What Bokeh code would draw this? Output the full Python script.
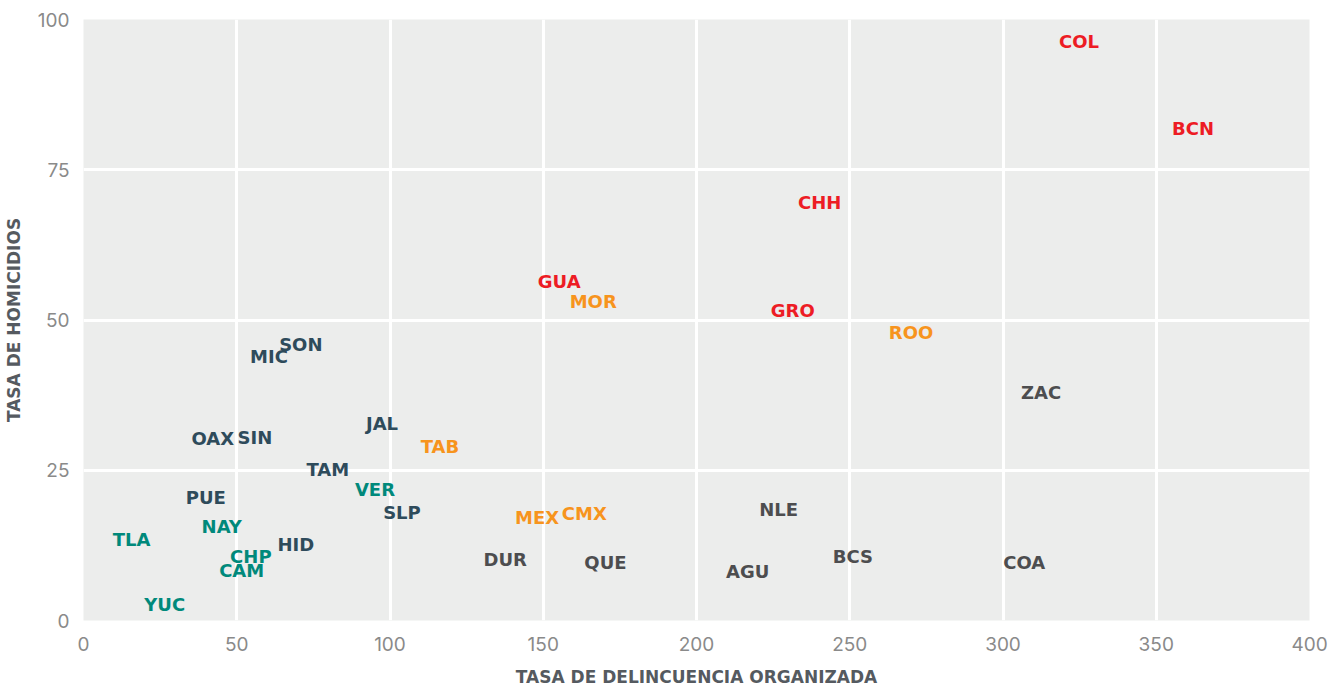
from bokeh.plotting import figure
from bokeh.models import ColumnDataSource, FixedTicker, Range1d
from bokeh.core.properties import value
from bokeh.embed import file_html
from bokeh.resources import INLINE

states = ["COL", "BCN", "CHH", "GUA", "MOR", "GRO", "ROO", "ZAC", "SON", "MIC",
          "JAL", "TAB", "OAX", "SIN", "TAM", "VER", "PUE", "SLP", "NLE", "MEX",
          "CMX", "NAY", "TLA", "HID", "CHP", "BCS", "DUR", "QUE", "COA", "CAM",
          "AGU", "YUC"]
delincuencia = [324.8, 362.0, 240.2, 155.2, 166.3, 231.4, 270.0, 312.4, 70.9, 60.5,
                97.4, 116.3, 42.2, 55.9, 79.7, 95.1, 39.9, 103.9, 226.8, 148.0,
                163.4, 45.1, 15.7, 69.3, 54.6, 251.0, 137.6, 170.3, 306.9, 51.6,
                216.7, 26.5]
homicidios = [96.4, 81.8, 69.5, 56.4, 53.1, 51.5, 47.9, 38.0, 46.0, 43.9,
              32.8, 28.9, 30.2, 30.5, 25.2, 21.8, 20.5, 18.0, 18.5, 17.2,
              17.8, 15.7, 13.5, 12.7, 10.7, 10.7, 10.2, 9.7, 9.7, 8.4,
              8.1, 2.6]
grupo = ["rojo", "rojo", "rojo", "rojo", "naranja", "rojo", "naranja", "gris", "pizarra", "pizarra",
         "pizarra", "naranja", "pizarra", "pizarra", "pizarra", "verde", "pizarra", "pizarra", "gris", "naranja",
         "naranja", "verde", "verde", "pizarra", "verde", "gris", "gris", "gris", "gris", "verde",
         "gris", "verde"]
paleta = {"rojo": "#ED1C24", "naranja": "#F7941D", "verde": "#00897B",
          "pizarra": "#2E4B5B", "gris": "#4D4D4F"}
x_ticks = [0, 50, 100, 150, 200, 250, 300, 350, 400]
y_ticks = [0, 25, 50, 75, 100]

src = ColumnDataSource(dict(x=delincuencia, y=homicidios, t=states,
                            c=[paleta[g] for g in grupo]))

p = figure(width=1330, height=689, output_backend="svg", toolbar_location=None,
           x_range=Range1d(0, 400), y_range=Range1d(0, 100),
           min_border_left=83, min_border_right=21, min_border_top=19, min_border_bottom=66)
p.background_fill_color = "#ECEDEC"
p.outline_line_color = None
p.border_fill_color = "white"

for ax in (p.xaxis, p.yaxis):
    ax.axis_line_color = None
    ax.major_tick_line_color = None
    ax.minor_tick_line_color = None
    ax.major_tick_out = 0
    ax.major_tick_in = 0
    ax.major_label_text_font = "Inter"
    ax.major_label_text_font_size = "19px"
    ax.major_label_text_color = "#8A8A8A"
    ax.axis_label_text_font = "DejaVu Sans"
    ax.axis_label_text_font_style = "bold"
    ax.axis_label_text_font_size = "17px"
    ax.axis_label_text_color = "#555A60"
p.xaxis.ticker = FixedTicker(ticks=x_ticks)
p.yaxis.ticker = FixedTicker(ticks=y_ticks)
p.xaxis.major_label_standoff = 16
p.yaxis.major_label_standoff = 14
p.xaxis.axis_label = "TASA DE DELINCUENCIA ORGANIZADA"
p.yaxis.axis_label = "TASA DE HOMICIDIOS"
p.xaxis.axis_label_standoff = 13
p.yaxis.axis_label_standoff = 11

p.xgrid.grid_line_color = "white"
p.ygrid.grid_line_color = "white"
p.xgrid.grid_line_width = 3
p.ygrid.grid_line_width = 3

p.text(x="x", y="y", text="t", source=src, text_color="c",
       text_font=value("DejaVu Sans"), text_font_style="bold", text_font_size="18px",
       text_align="center", text_baseline="middle")

open("out.html", "w").write(file_html(p, INLINE))
